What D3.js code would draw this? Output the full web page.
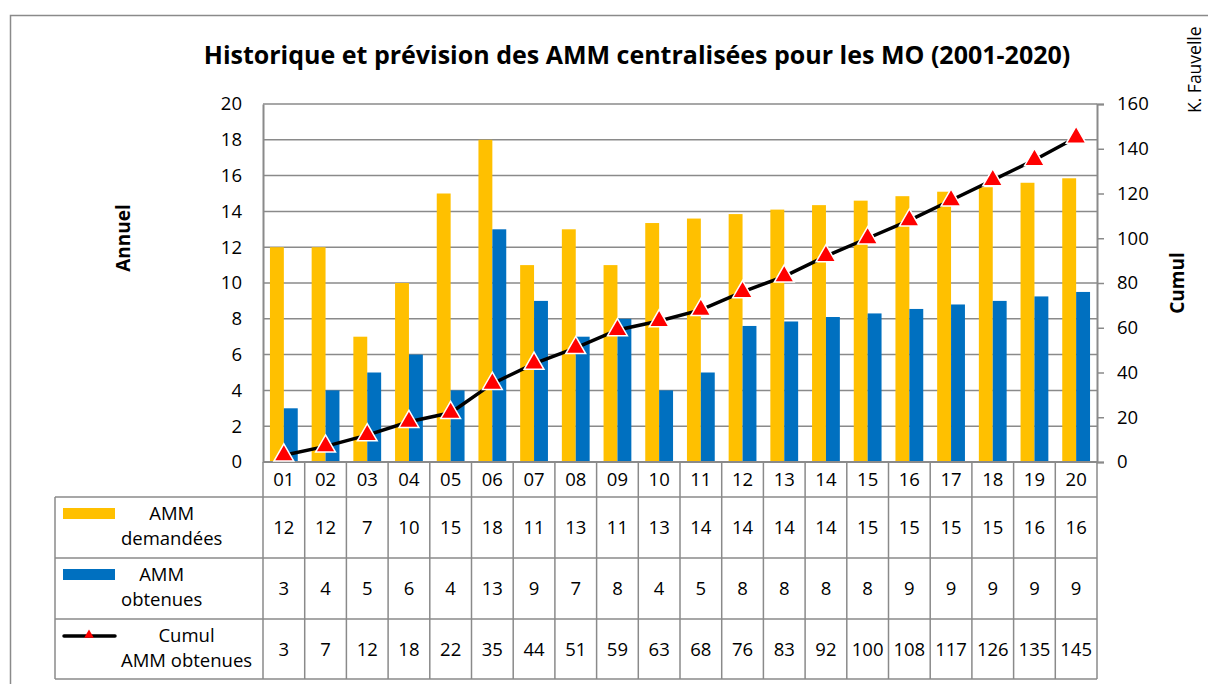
<html>
<head>
<meta charset="utf-8">
<title>AMM centralisées</title>
<script src="https://cdn.jsdelivr.net/npm/d3@7/dist/d3.min.js"></script>
<style>
  body { margin: 0; background: #fff; }
  svg text { font-family: "Open Sans", sans-serif; fill: #000; }
</style>
</head>
<body>
<svg id="chart"></svg>
<script>
// data
var years = ['01','02','03','04','05','06','07','08','09','10','11','12','13','14','15','16','17','18','19','20'];
var demandees = [12, 12, 7, 10, 15, 18, 11, 13, 11, 13.35, 13.6, 13.85, 14.1, 14.35, 14.6, 14.85, 15.1, 15.35, 15.6, 15.85];
var obtenues = [3, 4, 5, 6, 4, 13, 9, 7, 8, 4, 5, 7.6, 7.85, 8.1, 8.3, 8.55, 8.8, 9.0, 9.25, 9.5];
var cumul = [3, 7, 12, 18, 22, 35, 44, 51, 59, 63, 68, 76, 83, 92, 100, 108, 117, 126, 135, 145];
// values printed in the table
var demandeesRow = [12, 12, 7, 10, 15, 18, 11, 13, 11, 13, 14, 14, 14, 14, 15, 15, 15, 15, 16, 16];
var obtenuesRow = [3, 4, 5, 6, 4, 13, 9, 7, 8, 4, 5, 8, 8, 8, 8, 9, 9, 9, 9, 9];
var leftTicks = [0, 2, 4, 6, 8, 10, 12, 14, 16, 18, 20];
var rightTicks = [0, 20, 40, 60, 80, 100, 120, 140, 160];

(function() {
  var W = 1208, H = 684;
  var left = 263, right = 1097, top = 104, bottom = 462;
  var grey = '#8a8a8a', yellow = '#FFC000', blue = '#0070C0';
  var fs = 18.5;

  var svg = d3.select('#chart').attr('width', W).attr('height', H);

  // outer frame
  svg.append('rect')
    .attr('x', 10.5).attr('y', 15.5)
    .attr('width', W + 20).attr('height', H + 20)
    .attr('fill', 'none').attr('stroke', grey).attr('stroke-width', 1.5);

  var x = d3.scaleBand().domain(years).range([left, right]).paddingInner(0).paddingOuter(0);
  var xs = d3.scaleBand().domain(['d', 'o']).range([0, x.bandwidth()]).paddingInner(0).paddingOuter(0.5);
  var yL = d3.scaleLinear().domain([0, 20]).range([bottom, top]);
  var yR = d3.scaleLinear().domain([0, 160]).range([bottom, top]);

  // gridlines
  svg.append('g').selectAll('line')
    .data(leftTicks.filter(function(d) { return d > 0; }))
    .enter().append('line')
    .attr('x1', left).attr('x2', right)
    .attr('y1', function(d) { return yL(d); }).attr('y2', function(d) { return yL(d); })
    .attr('stroke', grey).attr('stroke-width', 1.5);

  // left axis
  var gL = svg.append('g').attr('transform', 'translate(' + left + ',0)')
    .call(d3.axisLeft(yL).tickValues(leftTicks).tickSize(0).tickPadding(21));
  gL.select('.domain').attr('stroke', grey).attr('stroke-width', 2);
  gL.selectAll('text').attr('font-size', fs).attr('font-family', '"Open Sans", sans-serif');

  // right axis
  var gR = svg.append('g').attr('transform', 'translate(' + right + ',0)')
    .call(d3.axisRight(yR).tickValues(rightTicks).tickSize(7).tickPadding(13));
  gR.select('.domain').attr('stroke', grey).attr('stroke-width', 2);
  gR.selectAll('line').attr('stroke', grey).attr('stroke-width', 1.5);
  gR.selectAll('text').attr('font-size', fs).attr('font-family', '"Open Sans", sans-serif');

  // bars
  var groups = svg.append('g').selectAll('g')
    .data(years).enter().append('g')
    .attr('transform', function(d) { return 'translate(' + x(d) + ',0)'; });
  groups.append('rect')
    .attr('x', xs('d')).attr('width', xs.bandwidth())
    .attr('y', function(d, i) { return yL(demandees[i]); })
    .attr('height', function(d, i) { return bottom - yL(demandees[i]); })
    .attr('fill', yellow);
  groups.append('rect')
    .attr('x', xs('o')).attr('width', xs.bandwidth())
    .attr('y', function(d, i) { return yL(obtenues[i]); })
    .attr('height', function(d, i) { return bottom - yL(obtenues[i]); })
    .attr('fill', blue);

  // x axis line
  svg.append('line').attr('x1', left).attr('x2', right).attr('y1', bottom).attr('y2', bottom)
    .attr('stroke', grey).attr('stroke-width', 2);

  // cumul line
  var cx = function(d, i) { return x(years[i]) + x.bandwidth() / 2; };
  var line = d3.line().x(cx).y(function(d) { return yR(d); });
  svg.append('path').datum(cumul)
    .attr('d', line).attr('fill', 'none').attr('stroke', '#000').attr('stroke-width', 3.5);
  var tri = d3.symbol().type(d3.symbolTriangle).size(170);
  svg.append('g').selectAll('path')
    .data(cumul).enter().append('path')
    .attr('d', tri)
    .attr('transform', function(d, i) { return 'translate(' + cx(d, i) + ',' + yR(d) + ')'; })
    .attr('fill', '#FF0000').attr('stroke', '#fff').attr('stroke-width', 1.5);

  // title
  svg.append('text').attr('x', 637).attr('y', 64).attr('text-anchor', 'middle')
    .attr('font-size', 25).attr('font-weight', 'bold')
    .text('Historique et prévision des AMM centralisées pour les MO (2001-2020)');

  // axis titles
  svg.append('text').attr('transform', 'translate(130,238) rotate(-90)')
    .attr('text-anchor', 'middle').attr('font-size', 19).attr('font-weight', 'bold').text('Annuel');
  svg.append('text').attr('transform', 'translate(1184,283) rotate(-90)')
    .attr('text-anchor', 'middle').attr('font-size', 19).attr('font-weight', 'bold').text('Cumul');
  svg.append('text').attr('transform', 'translate(1201,113) rotate(-90)')
    .attr('font-size', 17.5).text('K. Fauvelle');

  // data table
  var rowTops = [462, 497, 558, 619, 679];
  var legLeft = 55;
  var t = svg.append('g');
  var hline = function(y, x1, x2) {
    t.append('line').attr('x1', x1).attr('x2', x2).attr('y1', y).attr('y2', y)
      .attr('stroke', grey).attr('stroke-width', 1.5);
  };
  hline(rowTops[1], legLeft, right);
  hline(rowTops[2], legLeft, right);
  hline(rowTops[3], legLeft, right);
  hline(rowTops[4], legLeft, right);
  t.append('line').attr('x1', legLeft).attr('x2', legLeft).attr('y1', rowTops[1]).attr('y2', rowTops[4])
    .attr('stroke', grey).attr('stroke-width', 1.5);
  t.selectAll('.vline')
    .data(years.concat(['end'])).enter().append('line')
    .attr('class', 'vline')
    .attr('x1', function(d) { return d === 'end' ? right : x(d); })
    .attr('x2', function(d) { return d === 'end' ? right : x(d); })
    .attr('y1', rowTops[0]).attr('y2', rowTops[4])
    .attr('stroke', grey).attr('stroke-width', 1.5);

  var rows = [years, demandeesRow, obtenuesRow, cumul];
  rows.forEach(function(row, r) {
    var mid = (rowTops[r] + rowTops[r + 1]) / 2;
    t.selectAll('.cell' + r)
      .data(row).enter().append('text')
      .attr('class', 'cell' + r)
      .attr('x', function(d, i) { return x(years[i]) + x.bandwidth() / 2; })
      .attr('y', mid + 6.5)
      .attr('text-anchor', 'middle').attr('font-size', fs)
      .text(function(d) { return d; });
  });

  // legend keys in the table
  var legends = [
    {lines: ['AMM', 'demandées'], key: 'bar', color: yellow},
    {lines: ['AMM', 'obtenues'], key: 'bar', color: blue},
    {lines: ['Cumul', 'AMM obtenues'], key: 'line'}
  ];
  legends.forEach(function(lg, r) {
    var y0 = rowTops[r + 1];
    if (lg.key === 'bar') {
      t.append('rect').attr('x', 63).attr('y', y0 + 11).attr('width', 52).attr('height', 11).attr('fill', lg.color);
    } else {
      t.append('line').attr('x1', 64).attr('x2', 115).attr('y1', y0 + 17).attr('y2', y0 + 17)
        .attr('stroke', '#000').attr('stroke-width', 3.5).attr('stroke-linecap', 'round');
      t.append('path').attr('d', d3.symbol().type(d3.symbolTriangle).size(40))
        .attr('transform', 'translate(89,' + (y0 + 16) + ')').attr('fill', '#FF0000');
    }
    var texts = lg.lines.map(function(s, k) {
      return t.append('text').attr('y', y0 + 23 + k * 25).attr('font-size', fs).attr('text-anchor', 'middle').text(s);
    });
    var maxW = d3.max(texts, function(s) { return s.node().getComputedTextLength(); });
    texts.forEach(function(s) { s.attr('x', 121 + maxW / 2); });
  });
})();
</script>
</body>
</html>
